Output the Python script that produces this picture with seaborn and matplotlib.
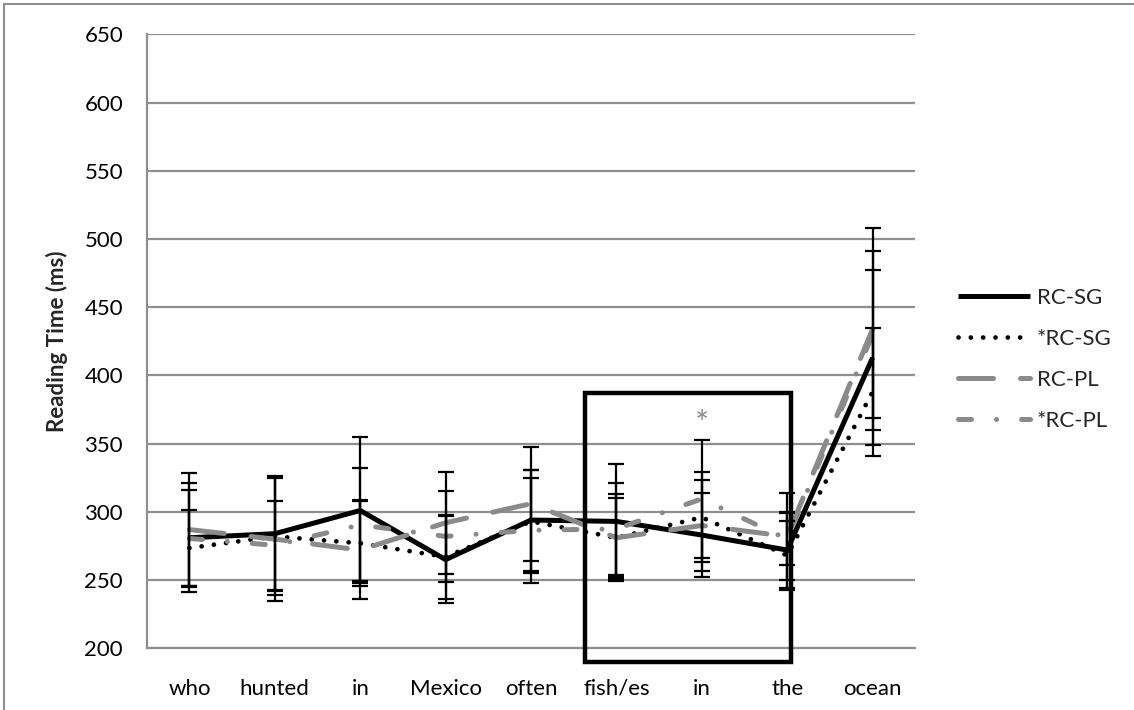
import numpy as np
import pandas as pd
import matplotlib
matplotlib.use("Agg")
import matplotlib.pyplot as plt
import seaborn as sns
from matplotlib.patches import Rectangle
from matplotlib.lines import Line2D

# ---- data ----
words = ["who", "hunted", "in", "Mexico", "often", "fish/es", "in", "the", "ocean"]

rc_sg = [281, 284, 301, 265, 294, 293, 283, 272, 413]
rc_sg_err = [40, 42, 53.5, 32, 37, 42, 30.5, 28, 64]

star_rc_sg = [273.5, 282, 277, 267, 293, 281, 296, 268, 388]
star_rc_sg_err = [28, 43, 31.7, 31, 38, 32, 33, 25, 47]

rc_pl = [287, 280, 272, 292, 306, 281, 290, 282, 434]
rc_pl_err = [41.5, 45.5, 35.7, 37.4, 41.7, 29, 33, 32, 74]

star_rc_pl = [280.5, 275.5, 290.5, 282, 286.5, 287.5, 309.5, 280, 430]
star_rc_pl_err = [35.5, 32.5, 41.3, 33.4, 38.5, 34, 43.4, 19, 61]

series_names = ["RC-SG", "*RC-SG", "RC-PL", "*RC-PL"]
y_ticks = [200, 250, 300, 350, 400, 450, 500, 550, 600, 650]

# ---- figure ----
sns.set_theme(style="white")
plt.rcParams["font.family"] = ["Lato", "DejaVu Sans"]

W, H = 1134, 710
fig = plt.figure(figsize=(W / 100, H / 100), dpi=100)
x0, x1, ytop, ybot = 146.7, 915.3, 34.3, 648.3
ax = fig.add_axes([x0 / W, 1 - ybot / H, (x1 - x0) / W, (ybot - ytop) / H])

grid_gray = "#8f8f8f"
line_gray = "#8a8a8a"

pos = np.arange(len(words))
styles = [
    dict(color="black", lw=3.6, ls="-"),
    dict(color="black", lw=3.4, ls=(0, (0.01, 2.6))),
    dict(color=line_gray, lw=3.6, ls=(0, (7, 5.4))),
    dict(color=line_gray, lw=3.6, ls=(0, (2.6, 5, 0.01, 5))),
]
values = [rc_sg, star_rc_sg, rc_pl, star_rc_pl]
errors = [rc_sg_err, star_rc_sg_err, rc_pl_err, star_rc_pl_err]

handles = []
for name, vals, st in zip(series_names, values, styles):
    df = pd.DataFrame({"pos": pos, "rt": vals})
    n_before = len(ax.lines)
    sns.lineplot(data=df, x="pos", y="rt", ax=ax, color=st["color"],
                 linewidth=st["lw"], linestyle=st["ls"], dash_capstyle="round",
                 solid_capstyle="butt", solid_joinstyle="miter", zorder=3,
                 legend=False)
    handles.append(ax.lines[n_before])

for vals, err in zip(values, errors):
    ax.errorbar(pos, vals, yerr=err, fmt="none", ecolor="black",
                elinewidth=1.6, capsize=5.5, capthick=1.6, zorder=4)

# highlighted region box
ax.add_patch(Rectangle((4.63, 190), 2.42, 196.8, fill=False, edgecolor="black",
                       lw=3.2, clip_on=False, zorder=5, joinstyle="miter"))
# significance marker
ax.text(6.0, 364, "*", color=line_gray, ha="center", va="center", fontsize=24,
        zorder=6)

# axes styling
ax.set_xlim(-0.5, len(words) - 0.5)
ax.set_ylim(200, 650)
ax.set_yticks(y_ticks)
ax.set_yticklabels([str(t) for t in y_ticks])
ax.set_xticks(pos)
ax.set_xticklabels(words)
ax.set_xticks(np.arange(-0.5, len(words), 1.0), minor=True)
ax.tick_params(axis="x", which="major", length=0, pad=22, labelsize=16,
               colors="black")
ax.tick_params(axis="x", which="minor", length=7.5, width=1.5, color=grid_gray,
               direction="out")
ax.tick_params(axis="y", which="major", length=7, width=1.5, color=grid_gray,
               direction="out", pad=10, labelsize=16, labelcolor="black")
ax.yaxis.grid(True, color=grid_gray, lw=1.6)
ax.xaxis.grid(False)
ax.set_axisbelow(True)
for s in ["top", "right"]:
    ax.spines[s].set_visible(False)
for s in ["left", "bottom"]:
    ax.spines[s].set_color(grid_gray)
    ax.spines[s].set_linewidth(1.6)
ax.set_xlabel("")
ax.set_ylabel("Reading Time (ms)", fontsize=16, fontweight="bold", labelpad=12)

leg = fig.legend(handles=handles, labels=series_names, loc="center left",
                 bbox_to_anchor=(958 / W, 1 - 359.5 / H), frameon=False,
                 fontsize=16, handlelength=3.25, handletextpad=0.3,
                 labelspacing=0.95, borderpad=0, borderaxespad=0)

# outer frame of the cropped figure
fig.add_artist(Line2D([3.5 / W, 3.5 / W], [0, 1 - 4 / H], transform=fig.transFigure,
                      color=grid_gray, lw=1.5))
fig.add_artist(Line2D([3.5 / W, 1], [1 - 4 / H, 1 - 4 / H], transform=fig.transFigure,
                      color=grid_gray, lw=1.5))

fig.savefig("out.png", dpi=100)
